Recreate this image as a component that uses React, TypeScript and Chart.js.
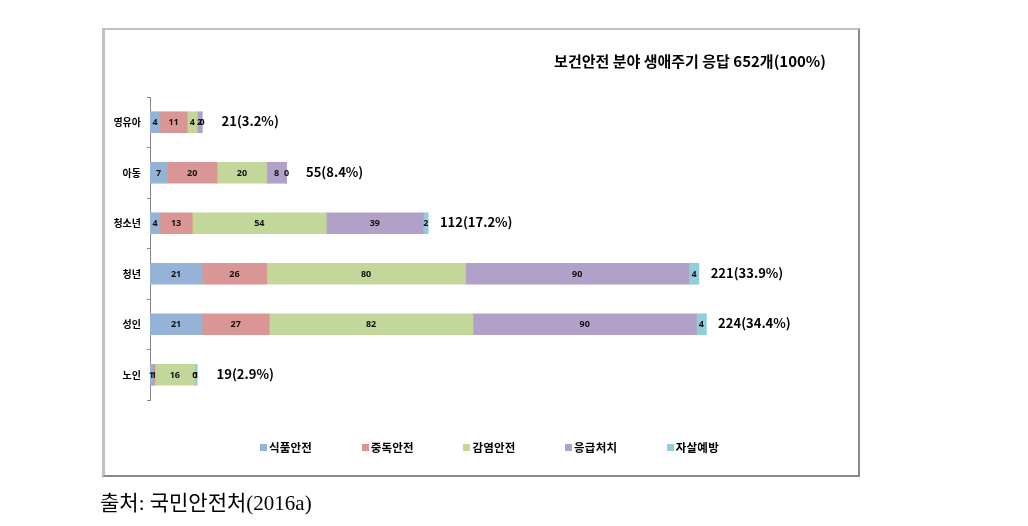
import React, { useEffect, useRef } from "react";
import { Chart, registerables } from "chart.js";

Chart.register(...registerables);

const categories = ["영유아", "아동", "청소년", "청년", "성인", "노인"];
const seriesNames = ["식품안전", "중독안전", "감염안전", "응급처치", "자살예방"];
const foodSafety = [4, 7, 4, 21, 21, 1];
const poisonSafety = [11, 20, 13, 26, 27, 1];
const infectionSafety = [4, 20, 54, 80, 82, 16];
const firstAid = [2, 8, 39, 90, 90, 0];
const suicidePrevention = [0, 0, 2, 4, 4, 1];
const totalLabels = ["21(3.2%)", "55(8.4%)", "112(17.2%)", "221(33.9%)", "224(34.4%)", "19(2.9%)"];
const seriesColors = ["#95b3d7", "#da9694", "#c4d79b", "#b1a0c7", "#92cddc"];
const titleText = "보건안전 분야 생애주기 응답 652개(100%)";
const sourceText = "출처: 국민안전처(2016a)";

const seriesValues = [foodSafety, poisonSafety, infectionSafety, firstAid, suicidePrevention];

const KFONT = '"Noto Sans CJK KR", "Noto Sans", sans-serif';

const labelPlugin = {
  id: "barLabels",
  afterDatasetsDraw(chart: any) {
    const ctx = chart.ctx;
    ctx.save();
    ctx.textBaseline = "middle";
    ctx.textAlign = "center";
    ctx.fillStyle = "#111";
    ctx.font = 'bold 9px "Noto Sans", sans-serif';
    chart.data.datasets.forEach((ds: any, di: number) => {
      const meta = chart.getDatasetMeta(di);
      meta.data.forEach((el: any, i: number) => {
        const cx = (el.x + el.base) / 2;
        ctx.fillText(String(ds.data[i]), cx, el.y + 0.5);
      });
    });
    const last = chart.getDatasetMeta(chart.data.datasets.length - 1);
    ctx.font = 'bold 13px "Noto Sans CJK KR", "Noto Sans", sans-serif';
    ctx.fillStyle = "#000";
    last.data.forEach((el: any, i: number) => {
      ctx.fillText(totalLabels[i], el.x + 48, el.y - 1);
    });
    ctx.restore();
  },
};

export default function App() {
  const canvasRef = useRef<HTMLCanvasElement | null>(null);

  useEffect(() => {
    if (!canvasRef.current) return;
    const chart = new Chart(canvasRef.current, {
      type: "bar",
      data: {
        labels: categories,
        datasets: seriesNames.map((name, i) => ({
          label: name,
          data: seriesValues[i],
          backgroundColor: seriesColors[i],
          borderWidth: 0,
          barThickness: 21,
        })),
      },
      options: {
        indexAxis: "y",
        responsive: false,
        animation: false,
        devicePixelRatio: 1,
        layout: { padding: { left: 0, top: 97, right: 257, bottom: 126 } },
        plugins: {
          legend: { display: false },
          title: { display: false },
          tooltip: { enabled: false },
        },
        scales: {
          x: { display: false, stacked: true, min: 0, max: 250 },
          y: {
            stacked: true,
            afterFit: (s: any) => {
              s.width = 150;
            },
            grid: {
              offset: true,
              drawOnChartArea: false,
              drawTicks: true,
              tickLength: 3,
              color: "#868686",
            },
            border: { display: true, color: "#868686", width: 1 },
            ticks: {
              color: "#000",
              padding: 6,
              font: { family: KFONT, size: 10, weight: "bold" },
            },
          },
        },
      } as any,
      plugins: [labelPlugin],
    });
    return () => chart.destroy();
  }, []);

  return (
    <div style={{ position: "absolute", left: 0, top: 0, width: 1028, height: 526, background: "#fff", overflow: "hidden" }}>
      <div
        style={{
          position: "absolute",
          left: 102,
          top: 28,
          width: 753,
          height: 445,
          borderLeft: "3px solid #c0c0c0",
          borderTop: "2px solid #c0c0c0",
          borderRight: "2px solid #898989",
          borderBottom: "2px solid #898989",
        }}
      />
      <canvas
        ref={canvasRef}
        width={1028}
        height={526}
        style={{ position: "absolute", left: 0, top: 0, width: 1028, height: 526 }}
      />
      <div
        style={{
          position: "absolute",
          left: 0,
          top: 51,
          width: 826,
          textAlign: "right",
          fontFamily: KFONT,
          fontWeight: "bold",
          fontSize: 15,
          lineHeight: "20px",
          color: "#000",
          whiteSpace: "nowrap",
        }}
      >
        {titleText}
      </div>
      {seriesNames.map((name, i) => (
        <div
          key={name}
          style={{
            position: "absolute",
            left: 260 + i * 101.7,
            top: 439,
            height: 16,
            display: "flex",
            alignItems: "center",
            fontFamily: KFONT,
            fontWeight: "bold",
            fontSize: 11.5,
            letterSpacing: 0.2,
            color: "#000",
            whiteSpace: "nowrap",
          }}
        >
          <span style={{ display: "inline-block", width: 7, height: 7, background: seriesColors[i], marginRight: 2 }} />
          <span>{name}</span>
        </div>
      ))}
      <div
        style={{
          position: "absolute",
          left: 100,
          top: 489,
          fontFamily: '"Liberation Serif", "Noto Sans CJK KR", serif',
          fontSize: 21,
          lineHeight: "28px",
          color: "#000",
          whiteSpace: "pre",
        }}
      >
        {sourceText}
      </div>
    </div>
  );
}
